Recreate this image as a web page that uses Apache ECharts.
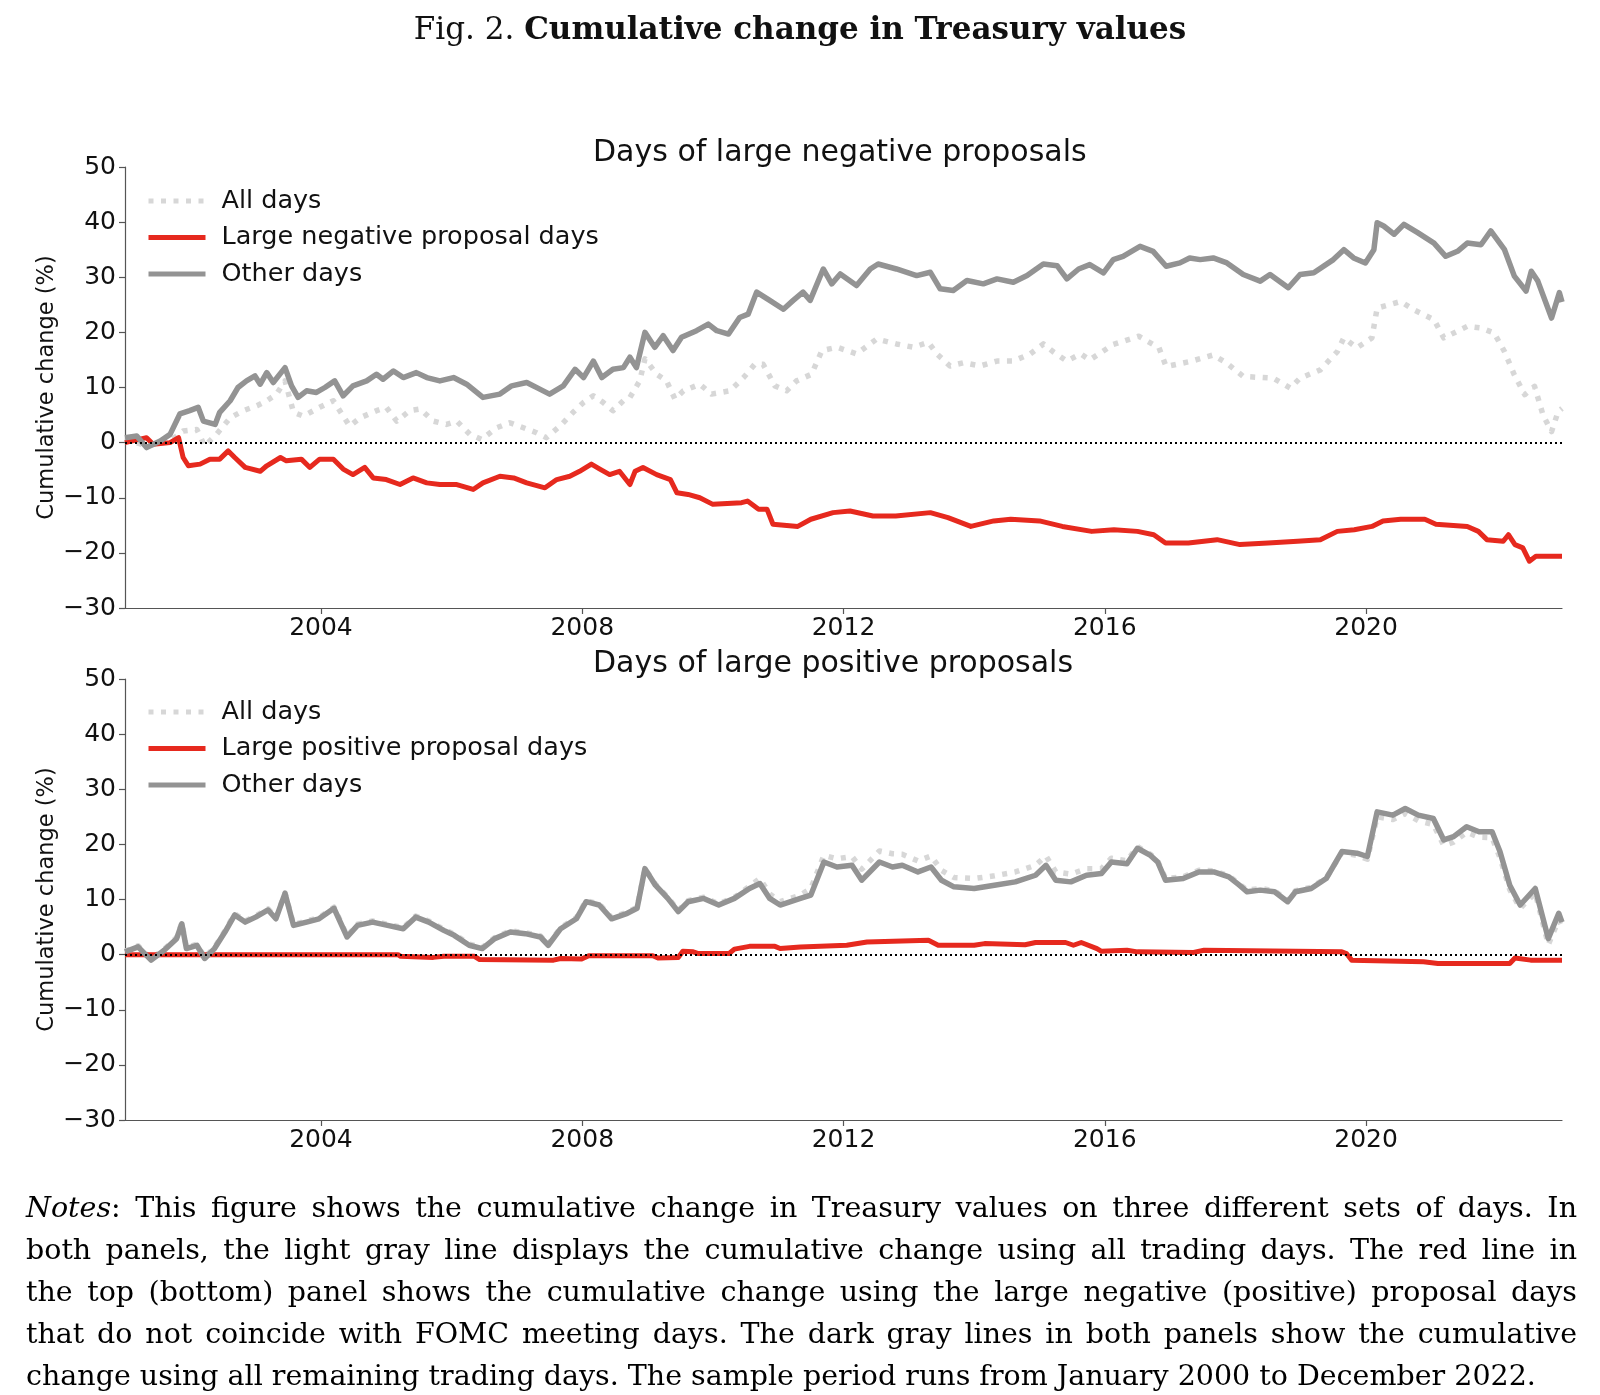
<!DOCTYPE html>
<html>

<head>
  <meta charset="utf-8" />
  <title>Fig. 2 Cumulative change in Treasury values</title>
  <script src="https://cdn.jsdelivr.net/npm/echarts@6/dist/echarts.min.js"></script>
</head>
<style type="text/css">
  body {
    margin: 0;
    background: #fff;
  }

  #main {
    position: absolute;
    left: 0;
    top: 0;
    width: 1600px;
    height: 1395px;
  }

  #notes {
    position: absolute;
    left: 26px;
    top: 1187px;
    width: 1551px;
    font-family: "DejaVu Serif", serif;
    font-size: 28.5px;
    line-height: 42px;
    color: #000;
  }

  #notes div {
    white-space: nowrap;
    text-align: justify;
    text-align-last: justify;
  }

  #notes div.last {
    text-align-last: left;
  }
</style>

<body>
  <div id="main"></div>
  <div id="notes">
    <div><i>Notes</i>: This figure shows the cumulative change in Treasury values on three different sets of days. In</div>
    <div>both panels, the light gray line displays the cumulative change using all trading days. The red line in</div>
    <div>the top (bottom) panel shows the cumulative change using the large negative (positive) proposal days</div>
    <div>that do not coincide with FOMC meeting days. The dark gray lines in both panels show the cumulative</div>
    <div class="last">change using all remaining trading days. The sample period runs from January 2000 to December 2022.</div>
  </div>
  <script>
    // x ticks shown on both panels
    var yearTicks = [2004, 2008, 2012, 2016, 2020];

    // top panel: days of large negative proposals  ([year, cumulative %])
    var negAll = [
      [2001.0, 0.6], [2001.33, -0.6], [2001.69, 0.3], [2001.89, 2.1], [2002.1, 2.4], [2002.22, -0.6],
      [2002.4, 1.5], [2002.61, 4.5], [2002.81, 5.8], [2003.02, 6.7], [2003.17, 7.6], [2003.32, 8.8],
      [2003.45, 11.2], [2003.58, 5.5], [2003.73, 4.8], [2003.98, 6.4], [2004.19, 7.6], [2004.32, 5.2],
      [2004.44, 3], [2004.6, 4.5], [2004.85, 5.8], [2005.0, 6.4], [2005.16, 3.9], [2005.36, 5.8],
      [2005.52, 6.1], [2005.72, 3.9], [2005.92, 3.3], [2006.08, 3.9], [2006.28, 1.5], [2006.46, 0.6],
      [2006.69, 2.7], [2006.89, 3.6], [2007.1, 2.7], [2007.3, 1.8], [2007.45, 0.9], [2007.66, 3],
      [2007.86, 5.5], [2008.02, 7.3], [2008.17, 8.5], [2008.32, 7.3], [2008.47, 5.8], [2008.63, 7.6],
      [2008.73, 8.2], [2008.88, 11.2], [2008.96, 15.2], [2009.14, 12.4], [2009.29, 11.2], [2009.42, 7.9],
      [2009.55, 9.4], [2009.8, 10.6], [2009.98, 8.8], [2010.26, 9.4], [2010.47, 11.8], [2010.64, 14.2],
      [2010.77, 14.2], [2010.95, 10.3], [2011.13, 9.4], [2011.28, 11.2], [2011.51, 12.4], [2011.67, 16.7],
      [2011.9, 17.3], [2012.2, 16.1], [2012.51, 18.8], [2012.81, 17.9], [2013.07, 17.3], [2013.3, 18.2],
      [2013.43, 16.1], [2013.63, 13.9], [2013.84, 14.5], [2014.09, 13.9], [2014.35, 14.8], [2014.6, 14.8],
      [2014.86, 16.1], [2015.06, 17.9], [2015.22, 16.4], [2015.42, 14.8], [2015.63, 16.1], [2015.77, 15],
      [2016.13, 17.8], [2016.52, 19.3], [2016.83, 17.2], [2016.94, 13.8], [2017.3, 14.7], [2017.66, 15.9],
      [2017.87, 14.4], [2018.12, 12], [2018.58, 11.7], [2018.84, 9.9], [2018.99, 11.7], [2019.3, 13.2],
      [2019.56, 16.5], [2019.66, 19], [2019.86, 17.2], [2020.09, 19], [2020.17, 24.4], [2020.53, 25.6],
      [2020.73, 24.1], [2021.04, 22.3], [2021.19, 19], [2021.55, 21.1], [2021.76, 20.8], [2021.96, 19.9],
      [2022.12, 16.5], [2022.27, 12.3], [2022.43, 8.7], [2022.58, 10.2], [2022.71, 5], [2022.84, 2],
      [2022.94, 5.6], [2023.0, 6.2]
    ];

    var negLarge = [
      [2001.0, 0], [2001.33, 0.9], [2001.43, -0.3], [2001.69, 0], [2001.82, 0.9], [2001.89, -2.7],
      [2001.97, -4.2], [2002.15, -3.9], [2002.3, -3], [2002.45, -3], [2002.58, -1.5], [2002.68, -2.7],
      [2002.84, -4.5], [2003.07, -5.2], [2003.17, -4.2], [2003.38, -2.7], [2003.47, -3.3], [2003.7, -3],
      [2003.83, -4.5], [2003.98, -3], [2004.19, -3], [2004.34, -4.8], [2004.49, -5.8], [2004.67, -4.5],
      [2004.8, -6.4], [2005.0, -6.7], [2005.21, -7.6], [2005.41, -6.4], [2005.62, -7.3], [2005.82, -7.6],
      [2006.08, -7.6], [2006.33, -8.5], [2006.48, -7.3], [2006.74, -6.1], [2006.95, -6.4], [2007.15, -7.3],
      [2007.43, -8.2], [2007.61, -6.7], [2007.81, -6.1], [2007.96, -5.2], [2008.14, -3.9], [2008.27, -4.8],
      [2008.42, -5.8], [2008.57, -5.2], [2008.73, -7.6], [2008.81, -5.2], [2008.93, -4.5], [2009.14, -5.8],
      [2009.35, -6.7], [2009.45, -9.1], [2009.62, -9.4], [2009.8, -10], [2010.0, -11.2], [2010.44, -10.9],
      [2010.53, -10.6], [2010.7, -12.1], [2010.83, -12.1], [2010.92, -14.8], [2011.3, -15.2], [2011.5, -13.9],
      [2011.84, -12.7], [2012.1, -12.4], [2012.45, -13.3], [2012.8, -13.3], [2013.33, -12.7], [2013.6, -13.6],
      [2013.95, -15.2], [2014.3, -14.2], [2014.56, -13.9], [2015.0, -14.2], [2015.35, -15.2], [2015.8, -16.1],
      [2016.14, -15.8], [2016.5, -16.1], [2016.75, -16.7], [2016.93, -18.2], [2017.28, -18.2], [2017.72, -17.6],
      [2018.07, -18.5], [2018.5, -18.2], [2018.95, -17.9], [2019.3, -17.6], [2019.56, -16.1], [2019.82, -15.8],
      [2020.09, -15.2], [2020.26, -14.2], [2020.53, -13.9], [2020.9, -13.9], [2021.07, -14.8], [2021.55, -15.2],
      [2021.72, -16.1], [2021.85, -17.6], [2022.1, -17.9], [2022.18, -16.7], [2022.28, -18.5], [2022.4, -19.1],
      [2022.5, -21.5], [2022.6, -20.6], [2023.0, -20.6]
    ];

    var negOther = [
      [2001.0, 0.9], [2001.18, 1.2], [2001.33, -0.9], [2001.54, 0.3], [2001.69, 1.5], [2001.84, 5.2],
      [2001.99, 5.8], [2002.12, 6.4], [2002.2, 3.9], [2002.38, 3.3], [2002.45, 5.5], [2002.61, 7.6],
      [2002.73, 10], [2002.86, 11.2], [2002.99, 12.1], [2003.07, 10.6], [2003.17, 12.7], [2003.27, 10.9],
      [2003.45, 13.6], [2003.55, 10.3], [2003.65, 8.2], [2003.78, 9.4], [2003.93, 9.1], [2004.06, 10],
      [2004.21, 11.2], [2004.34, 8.5], [2004.49, 10.3], [2004.7, 11.2], [2004.85, 12.4], [2004.95, 11.5],
      [2005.11, 13], [2005.26, 11.8], [2005.46, 12.7], [2005.62, 11.8], [2005.82, 11.2], [2006.03, 11.8],
      [2006.23, 10.6], [2006.48, 8.2], [2006.74, 8.8], [2006.92, 10.3], [2007.15, 10.9], [2007.35, 9.7],
      [2007.5, 8.8], [2007.71, 10.3], [2007.89, 13.3], [2008.02, 11.8], [2008.17, 14.8], [2008.3, 11.8],
      [2008.47, 13.3], [2008.63, 13.6], [2008.73, 15.5], [2008.83, 13.6], [2008.96, 20], [2009.11, 17.3],
      [2009.24, 19.4], [2009.39, 16.7], [2009.52, 19.1], [2009.75, 20.3], [2009.93, 21.5], [2010.06, 20.3],
      [2010.24, 19.7], [2010.41, 22.7], [2010.54, 23.3], [2010.67, 27.3], [2010.87, 25.8], [2011.08, 24.2],
      [2011.23, 25.8], [2011.38, 27.3], [2011.49, 25.8], [2011.69, 31.5], [2011.82, 28.8], [2011.95, 30.6],
      [2012.2, 28.5], [2012.41, 31.5], [2012.53, 32.4], [2012.81, 31.5], [2013.12, 30.3], [2013.33, 30.9],
      [2013.48, 27.9], [2013.68, 27.6], [2013.89, 29.4], [2014.14, 28.8], [2014.35, 29.7], [2014.6, 29.1],
      [2014.81, 30.3], [2015.06, 32.4], [2015.27, 32.1], [2015.42, 29.7], [2015.6, 31.5], [2015.77, 32.3],
      [2015.98, 30.8], [2016.13, 33.2], [2016.28, 33.8], [2016.54, 35.6], [2016.74, 34.7], [2016.94, 32],
      [2017.15, 32.6], [2017.3, 33.5], [2017.46, 33.2], [2017.66, 33.5], [2017.87, 32.6], [2018.12, 30.5],
      [2018.38, 29.3], [2018.53, 30.5], [2018.81, 28.1], [2018.99, 30.5], [2019.2, 30.8], [2019.5, 33.2],
      [2019.66, 35], [2019.81, 33.5], [2019.99, 32.6], [2020.12, 35], [2020.17, 39.9], [2020.27, 39.3],
      [2020.43, 37.8], [2020.58, 39.6], [2020.79, 38.1], [2021.04, 36.2], [2021.22, 33.8], [2021.4, 34.7],
      [2021.55, 36.2], [2021.76, 35.9], [2021.91, 38.4], [2022.12, 35], [2022.27, 30.2], [2022.45, 27.5],
      [2022.53, 31.1], [2022.63, 29.3], [2022.84, 22.6], [2022.96, 27.2], [2023.0, 25.5]
    ];

    // bottom panel: days of large positive proposals
    var posAll = [
      [2001.0, 0.6], [2001.2, 1.6], [2001.4, -0.8], [2001.6, 1.0], [2001.79, 3.1], [2001.87, 5.8],
      [2001.94, 1.3], [2002.1, 1.9], [2002.22, -0.5], [2002.37, 1.3], [2002.53, 4.3], [2002.68, 7.4],
      [2002.84, 6.1], [2003.0, 7.0], [2003.19, 8.3], [2003.31, 6.7], [2003.45, 11.2], [2003.58, 5.5],
      [2003.78, 6.1], [2003.97, 6.7], [2004.2, 8.6], [2004.4, 3.4], [2004.56, 5.5], [2004.79, 6.1],
      [2005.02, 5.5], [2005.26, 4.9], [2005.45, 7.0], [2005.65, 6.1], [2005.88, 4.6], [2006.04, 3.7],
      [2006.27, 1.9], [2006.47, 1.3], [2006.66, 3.1], [2006.9, 4.3], [2007.13, 4.0], [2007.36, 3.4],
      [2007.48, 1.9], [2007.67, 4.9], [2007.91, 6.7], [2008.06, 9.8], [2008.26, 9.2], [2008.45, 6.7],
      [2008.69, 7.7], [2008.84, 8.6], [2008.96, 15.6], [2009.12, 12.8], [2009.31, 10.4], [2009.47, 8.0],
      [2009.62, 9.8], [2009.86, 10.4], [2010.09, 9.2], [2010.33, 10.4], [2010.56, 12.4], [2010.72, 13.8],
      [2010.87, 11.0], [2011.03, 9.6], [2011.34, 10.8], [2011.5, 12.0], [2011.7, 18.0], [2011.9, 17.4],
      [2012.13, 17.8], [2012.28, 15.5], [2012.55, 18.8], [2012.75, 18.3], [2012.9, 18.2], [2013.14, 17.0],
      [2013.34, 17.9], [2013.5, 15.3], [2013.69, 14.0], [2014.0, 13.8], [2014.31, 14.3], [2014.63, 15.0],
      [2014.94, 16.2], [2015.1, 17.9], [2015.25, 15.0], [2015.48, 14.6], [2015.72, 15.6], [2015.95, 15.6],
      [2016.1, 17.5], [2016.34, 17.0], [2016.5, 19.6], [2016.7, 18.2], [2016.81, 17.0], [2016.93, 13.8],
      [2017.2, 14.1], [2017.44, 15.3], [2017.67, 15.2], [2017.9, 14.3], [2018.06, 12.8], [2018.18, 11.7],
      [2018.38, 12.0], [2018.6, 11.6], [2018.8, 9.8], [2018.92, 11.6], [2019.16, 12.2], [2019.39, 13.9],
      [2019.63, 18.5], [2019.86, 18.0], [2020.02, 17.3], [2020.17, 25.0], [2020.41, 24.5], [2020.6, 25.6],
      [2020.8, 24.3], [2021.03, 23.6], [2021.19, 19.8], [2021.34, 20.4], [2021.54, 22.2], [2021.73, 21.3],
      [2021.93, 21.2], [2022.05, 17.6], [2022.2, 11.8], [2022.36, 8.4], [2022.59, 11.2], [2022.79, 1.8],
      [2022.95, 6.3], [2023.0, 5.0]
    ];

    var posLarge = [
      [2001.0, 0], [2005.18, 0], [2005.22, -0.3], [2005.72, -0.5], [2005.88, -0.3], [2006.35, -0.3],
      [2006.43, -0.9], [2007.56, -1], [2007.67, -0.7], [2007.99, -0.8], [2008.1, -0.2], [2009.08, -0.2],
      [2009.16, -0.6], [2009.47, -0.5], [2009.54, 0.6], [2009.7, 0.5], [2009.78, 0.2], [2010.25, 0.2],
      [2010.33, 1], [2010.56, 1.5], [2010.95, 1.5], [2011.03, 1.1], [2011.34, 1.4], [2012.05, 1.7],
      [2012.36, 2.3], [2013.3, 2.6], [2013.45, 1.7], [2014.0, 1.7], [2014.16, 2], [2014.78, 1.8],
      [2014.94, 2.2], [2015.4, 2.2], [2015.52, 1.7], [2015.64, 2.2], [2015.88, 1.1], [2015.95, 0.6],
      [2016.34, 0.8], [2016.5, 0.5], [2017.36, 0.4], [2017.52, 0.8], [2019.63, 0.5], [2019.7, 0.2],
      [2019.78, -1], [2020.88, -1.3], [2021.1, -1.6], [2022.2, -1.6], [2022.28, -0.6], [2022.52, -1],
      [2023.0, -1]
    ];

    var posOther = [
      [2001.0, 0.5], [2001.2, 1.4], [2001.4, -1], [2001.6, 0.8], [2001.79, 2.9], [2001.87, 5.6],
      [2001.94, 1.1], [2002.1, 1.7], [2002.22, -0.7], [2002.37, 1.1], [2002.53, 4.1], [2002.68, 7.2],
      [2002.84, 5.9], [2003.0, 6.8], [2003.19, 8.1], [2003.31, 6.5], [2003.45, 11.1], [2003.58, 5.3],
      [2003.78, 5.9], [2003.97, 6.5], [2004.2, 8.4], [2004.4, 3.2], [2004.56, 5.3], [2004.79, 5.9],
      [2005.02, 5.3], [2005.26, 4.7], [2005.45, 6.8], [2005.65, 5.9], [2005.88, 4.4], [2006.04, 3.5],
      [2006.27, 1.7], [2006.47, 1.1], [2006.66, 2.9], [2006.9, 4.1], [2007.13, 3.8], [2007.36, 3.2],
      [2007.48, 1.7], [2007.67, 4.7], [2007.91, 6.5], [2008.06, 9.6], [2008.26, 9], [2008.45, 6.5],
      [2008.69, 7.5], [2008.84, 8.4], [2008.96, 15.6], [2009.12, 12.6], [2009.31, 10.2], [2009.47, 7.8],
      [2009.62, 9.6], [2009.86, 10.2], [2010.09, 9], [2010.33, 10.2], [2010.56, 12], [2010.72, 12.9],
      [2010.87, 10.2], [2011.03, 9], [2011.34, 10.2], [2011.5, 10.8], [2011.7, 16.8], [2011.9, 15.9],
      [2012.13, 16.2], [2012.28, 13.5], [2012.55, 16.8], [2012.75, 15.9], [2012.9, 16.2], [2013.14, 15],
      [2013.34, 15.9], [2013.5, 13.5], [2013.69, 12.3], [2014.0, 12], [2014.31, 12.6], [2014.63, 13.2],
      [2014.94, 14.4], [2015.1, 16.2], [2015.25, 13.5], [2015.48, 13.2], [2015.72, 14.4], [2015.95, 14.7],
      [2016.1, 16.8], [2016.34, 16.5], [2016.5, 19.3], [2016.7, 18], [2016.81, 16.8], [2016.93, 13.5],
      [2017.2, 13.8], [2017.44, 15], [2017.67, 15], [2017.9, 14.1], [2018.06, 12.6], [2018.18, 11.4],
      [2018.38, 11.7], [2018.6, 11.4], [2018.8, 9.6], [2018.92, 11.4], [2019.16, 12], [2019.39, 13.8],
      [2019.63, 18.7], [2019.86, 18.4], [2020.02, 17.8], [2020.17, 25.9], [2020.41, 25.3], [2020.6, 26.5],
      [2020.8, 25.3], [2021.03, 24.7], [2021.19, 20.8], [2021.34, 21.4], [2021.54, 23.2], [2021.73, 22.3],
      [2021.93, 22.3], [2022.05, 18.7], [2022.2, 12.6], [2022.36, 9], [2022.59, 12], [2022.79, 2.9],
      [2022.95, 7.5], [2023.0, 5.9]
    ];

    var LIGHT = '#d7d7d7';
    var RED = '#e6291e';
    var DARK = '#939393';
    var FONT = 'DejaVu Sans';

    function minusFmt(v) {
      return v < 0 ? '\u2212' + Math.abs(v) : String(v);
    }

    function xAxisFor(idx) {
      return {
        type: 'value',
        gridIndex: idx,
        min: 2001,
        max: 2023,
        axisLine: { onZero: false, lineStyle: { color: '#555', width: 1.2 } },
        axisTick: { customValues: yearTicks, length: 6, lineStyle: { color: '#555', width: 1.2 } },
        axisLabel: {
          customValues: yearTicks, margin: 8, color: '#111', fontSize: 25, fontFamily: FONT,
          formatter: function (v) { return String(v); }
        },
        splitLine: { show: false }
      };
    }

    function yAxisFor(idx) {
      return {
        type: 'value',
        gridIndex: idx,
        min: -30,
        max: 50,
        interval: 10,
        name: 'Cumulative change (%)',
        nameLocation: 'middle',
        nameGap: 66,
        nameMoveOverlap: false,
        nameTextStyle: { fontSize: 22.5, fontFamily: FONT, color: '#111' },
        axisLine: { show: true, lineStyle: { color: '#555', width: 1.2 } },
        axisTick: { show: true, length: 6, lineStyle: { color: '#555', width: 1.2 } },
        axisLabel: { margin: 9, color: '#111', fontSize: 25, fontFamily: FONT, formatter: minusFmt },
        splitLine: { show: false }
      };
    }

    var zeroLine = {
      silent: true,
      symbol: 'none',
      label: { show: false },
      lineStyle: { color: '#000', type: [2, 3], width: 2 },
      data: [{ yAxis: 0 }]
    };

    function lineSeries(name, idx, data, color, width, dash, z) {
      return {
        name: name,
        type: 'line',
        xAxisIndex: idx,
        yAxisIndex: idx,
        data: data,
        symbol: 'none',
        showSymbol: false,
        animation: false,
        z: z,
        lineStyle: { color: color, width: width, type: dash, cap: 'butt', join: 'round' },
        itemStyle: { color: color }
      };
    }

    function legendFor(top, redName) {
      return {
        top: top,
        left: 141,
        orient: 'vertical',
        itemWidth: 57,
        itemHeight: 22,
        itemGap: 10.5,
        data: ['All days', redName, 'Other days'],
        itemStyle: { opacity: 0 },
        lineStyle: { width: 5 },
        textStyle: { fontSize: 25.5, fontFamily: FONT, color: '#111', padding: [0, 0, 0, 11] }
      };
    }

    var myChart = echarts.init(document.getElementById('main'), null, { renderer: 'canvas' });

    var topOther = lineSeries('Other days', 0, negOther, DARK, 5.5, 'solid', 4);
    topOther.markLine = zeroLine;
    var botOther = lineSeries('Other days', 1, posOther, DARK, 5.5, 'solid', 4);
    botOther.markLine = zeroLine;

    var option = {
      animation: false,
      backgroundColor: '#fff',
      title: {
        left: 'center',
        top: 10,
        text: '{r|Fig. 2. }{b|Cumulative change in Treasury values}',
        textStyle: {
          rich: {
            r: { fontFamily: 'DejaVu Serif', fontSize: 31, fontWeight: 'normal', color: '#111' },
            b: { fontFamily: 'DejaVu Serif', fontSize: 31, fontWeight: 'bold', color: '#111' }
          }
        }
      },
      graphic: [
        {
          type: 'text', left: 843 - 250, top: 138,
          style: { text: 'Days of large negative proposals', fontSize: 30, fontFamily: FONT, fill: '#111', width: 500, align: 'center' }
        },
        {
          type: 'text', left: 843 - 250, top: 649,
          style: { text: 'Days of large positive proposals', fontSize: 30, fontFamily: FONT, fill: '#111', width: 500, align: 'center' }
        }
      ],
      legend: [
        legendFor(183, 'Large negative proposal days'),
        legendFor(694, 'Large positive proposal days')
      ],
      grid: [
        { left: 125, right: 38, top: 167, height: 441 },
        { left: 125, right: 38, top: 679, height: 441 }
      ],
      xAxis: [xAxisFor(0), xAxisFor(1)],
      yAxis: [yAxisFor(0), yAxisFor(1)],
      series: [
        lineSeries('All days', 0, negAll, LIGHT, 5.5, [5, 7.5], 2),
        lineSeries('Large negative proposal days', 0, negLarge, RED, 5, 'solid', 3),
        topOther,
        lineSeries('All days', 1, posAll, LIGHT, 5.5, [5, 7.5], 2),
        lineSeries('Large positive proposal days', 1, posLarge, RED, 5, 'solid', 3),
        botOther
      ]
    };

    myChart.setOption(option);
  </script>
</body>

</html>
